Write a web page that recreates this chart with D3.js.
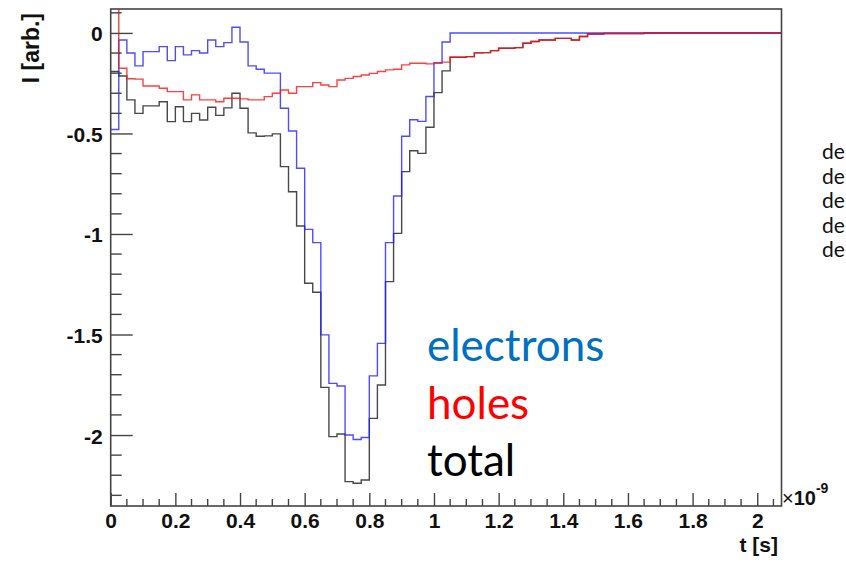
<!DOCTYPE html>
<html>
<head>
<meta charset="utf-8">
<script src="https://cdn.jsdelivr.net/npm/d3@7"></script>
<style>
  body { margin: 0; background: #fff; }
  svg { display: block; }
  .tick text { font-family: "Liberation Sans", Arial, sans-serif; font-weight: bold; }
</style>
</head>
<body>
<div class="chart"></div>
<script>
var svgWidth = 846;
var svgHeight = 570;

// histogram bins: 25 ps wide, starting at t = 0 (units of 1e-9 s)
var binWidth = 0.025;
var nBins = 83;

var electrons = [
  -0.48, -0.035, -0.10, -0.164, -0.093, -0.093, -0.068, -0.138, -0.068, -0.109,
  -0.088, -0.10, -0.035, -0.068, -0.048, 0.028, -0.045, -0.164, -0.181, -0.20,
  -0.20, -0.375, -0.488, -0.673, -0.977, -1.043, -1.502, -1.743, -1.756, -2.0,
  -2.022, -2.012, -1.706, -1.544, -1.043, -0.811, -0.514, -0.432, -0.44, -0.316,
  -0.15, -0.045, 0, 0, 0, 0, 0, 0, 0, 0,
  0, 0, 0, 0, 0, 0, 0, 0, 0, 0,
  0, 0, 0, 0, 0, 0, 0, 0, 0, 0,
  0, 0, 0, 0, 0, 0, 0, 0, 0, 0,
  0, 0, 0
];

var holes = [
  0.29, -0.176, -0.228, -0.23, -0.264, -0.264, -0.275, -0.292, -0.292, -0.333,
  -0.308, -0.333, -0.333, -0.342, -0.325, -0.325, -0.328, -0.333, -0.333, -0.317,
  -0.30, -0.284, -0.30, -0.267, -0.267, -0.247, -0.259, -0.267, -0.234, -0.226,
  -0.217, -0.209, -0.201, -0.192, -0.184, -0.181, -0.159, -0.151, -0.151, -0.154,
  -0.148, -0.145, -0.121, -0.121, -0.118, -0.099, -0.098, -0.088, -0.076, -0.076,
  -0.073, -0.051, -0.043, -0.035, -0.035, -0.027, -0.027, -0.035, -0.018, -0.005,
  -0.005, -0.003, -0.003, -0.003, -0.003, -0.003, 0, 0, 0, 0,
  0, 0, 0, 0, 0, 0, 0, 0, 0, 0,
  0, 0, 0
];

var total = [
  -0.192, -0.214, -0.333, -0.40, -0.363, -0.363, -0.342, -0.441, -0.367, -0.441,
  -0.40, -0.433, -0.37, -0.41, -0.373, -0.30, -0.375, -0.497, -0.514, -0.512,
  -0.502, -0.665, -0.79, -0.96, -1.245, -1.29, -1.763, -2.008, -1.995, -2.232,
  -2.24, -2.224, -1.917, -1.751, -1.237, -0.997, -0.69, -0.586, -0.599, -0.469,
  -0.297, -0.189, -0.121, -0.121, -0.118, -0.099, -0.098, -0.088, -0.076, -0.076,
  -0.073, -0.051, -0.043, -0.035, -0.035, -0.027, -0.027, -0.035, -0.018, -0.005,
  -0.005, -0.003, -0.003, -0.003, -0.003, -0.003, 0, 0, 0, 0,
  0, 0, 0, 0, 0, 0, 0, 0, 0, 0,
  0, 0, 0
];

var xTicks = [0, 0.2, 0.4, 0.6, 0.8, 1, 1.2, 1.4, 1.6, 1.8, 2];
var yTicks = [0, -0.5, -1, -1.5, -2];

var legendItems = ["electrons", "holes", "total"];
var legendColors = ["#0070c0", "#ff0000", "#000000"];
var sideLines = ["de", "de", "de", "de", "de"];

var svg = d3.select(".chart")
  .append("svg")
  .attr("width", svgWidth)
  .attr("height", svgHeight);

var x = d3.scaleLinear()
  .domain([0, nBins * binWidth])
  .range([110.7, 781.5]);

var y = d3.scaleLinear()
  .domain([-2.353, 0.119])
  .range([506, 9]);

svg.append("clipPath")
  .attr("id", "plotClip")
  .append("rect")
  .attr("x", x.range()[0])
  .attr("y", y.range()[1])
  .attr("width", x.range()[1] - x.range()[0])
  .attr("height", y.range()[0] - y.range()[1]);

// step histograms
function histPoints(values) {
  var pts = values.map((v, i) => [i * binWidth, v]);
  pts.push([values.length * binWidth, values[values.length - 1]]);
  return pts;
}

var stepLine = d3.line()
  .x(d => x(d[0]))
  .y(d => y(d[1]))
  .curve(d3.curveStepAfter);

var series = [
  { values: total, color: "#1a1a1a" },
  { values: electrons, color: "#2020ff" },
  { values: holes, color: "#ff1010" }
];

var histGroup = svg.append("g").attr("clip-path", "url(#plotClip)");
histGroup.selectAll("path")
  .data(series)
  .enter()
  .append("path")
  .attr("d", d => stepLine(histPoints(d.values)))
  .attr("fill", "none")
  .attr("stroke", d => d.color)
  .attr("stroke-width", 1.4)
  .attr("stroke-opacity", 0.8);

// frame
svg.append("rect")
  .attr("x", x.range()[0])
  .attr("y", y.range()[1])
  .attr("width", x.range()[1] - x.range()[0])
  .attr("height", y.range()[0] - y.range()[1])
  .attr("fill", "none")
  .attr("stroke", "#444")
  .attr("stroke-width", 1.6);

// x axis: major ticks every 0.2, minor every 0.05
var xMinor = d3.range(0, 2.07, 0.05).filter(t => Math.abs(t / 0.2 - Math.round(t / 0.2)) > 1e-6);
svg.append("g")
  .selectAll("line")
  .data(xMinor)
  .enter()
  .append("line")
  .attr("x1", d => x(d)).attr("x2", d => x(d))
  .attr("y1", 506).attr("y2", 499)
  .attr("stroke", "#444").attr("stroke-width", 1.4);

var bottomAxis = d3.axisBottom(x)
  .tickValues(xTicks)
  .tickFormat(d => String(d))
  .tickSizeInner(-13)
  .tickSizeOuter(0)
  .tickPadding(10);

var xAxisG = svg.append("g")
  .attr("transform", `translate(0, 506)`)
  .call(bottomAxis);
xAxisG.select(".domain").remove();
xAxisG.selectAll(".tick line").attr("stroke", "#444").attr("stroke-width", 1.4);
xAxisG.selectAll(".tick text")
  .attr("font-size", 21)
  .attr("fill", "#111")
  .attr("y", 7);

// y axis: major every 0.5, minor every 0.1
var yMinor = d3.range(-23, 2).map(k => k / 10).filter(t => Math.abs(t * 2 - Math.round(t * 2)) > 1e-6);
svg.append("g")
  .selectAll("line")
  .data(yMinor)
  .enter()
  .append("line")
  .attr("x1", x.range()[0]).attr("x2", x.range()[0] + 11)
  .attr("y1", d => y(d)).attr("y2", d => y(d))
  .attr("stroke", "#444").attr("stroke-width", 1.4);

var leftAxis = d3.axisLeft(y)
  .tickValues(yTicks)
  .tickFormat(d => String(d))
  .tickSizeInner(-22)
  .tickSizeOuter(0)
  .tickPadding(30);

var yAxisG = svg.append("g")
  .attr("transform", `translate(${x.range()[0]}, 0)`)
  .call(leftAxis);
yAxisG.select(".domain").remove();
yAxisG.selectAll(".tick line").attr("stroke", "#444").attr("stroke-width", 1.4);
yAxisG.selectAll(".tick text")
  .attr("font-size", 21)
  .attr("fill", "#111")
  .attr("x", -8)
  .attr("dy", "0.38em");

// axis titles
svg.append("text")
  .attr("transform", "translate(39, 13) rotate(-90)")
  .attr("text-anchor", "end")
  .attr("font-family", "Liberation Sans, Arial, sans-serif")
  .attr("font-weight", "bold")
  .attr("font-size", 23)
  .attr("fill", "#111")
  .text("I [arb.]");

svg.append("text")
  .attr("x", 778)
  .attr("y", 552)
  .attr("text-anchor", "end")
  .attr("font-family", "Liberation Sans, Arial, sans-serif")
  .attr("font-weight", "bold")
  .attr("font-size", 21)
  .attr("fill", "#111")
  .text("t [s]");

var expo = svg.append("text")
  .attr("x", 782)
  .attr("y", 505)
  .attr("font-family", "Liberation Sans, Arial, sans-serif")
  .attr("font-weight", "bold")
  .attr("font-size", 20)
  .attr("fill", "#111");
expo.append("tspan").attr("font-weight", "normal").text("\u00d7");
expo.append("tspan").text("10");
expo.append("tspan").attr("font-size", 14).attr("dy", -12).text("-9");

// legend labels
svg.append("g")
  .selectAll("text")
  .data(legendItems)
  .enter()
  .append("text")
  .attr("x", 427)
  .attr("y", (d, i) => 361 + i * 57.5)
  .attr("font-family", "Lato, sans-serif")
  .attr("font-size", 44)
  .attr("fill", (d, i) => legendColors[i])
  .text(d => d);

// cut-off side text
svg.append("g")
  .selectAll("text")
  .data(sideLines)
  .enter()
  .append("text")
  .attr("x", 822)
  .attr("y", (d, i) => 159 + i * 24.6)
  .attr("font-family", "Lato, sans-serif")
  .attr("font-size", 21)
  .attr("fill", "#111")
  .text(d => d);
</script>
</body>
</html>
